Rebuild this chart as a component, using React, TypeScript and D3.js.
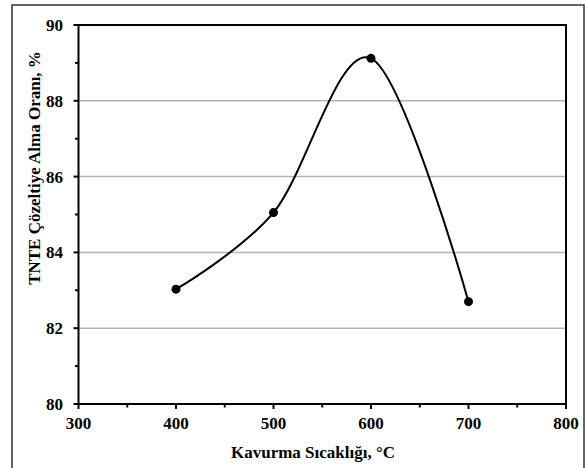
import React from "react";
import * as d3 from "d3";

const temperatures = [400, 500, 600, 700];
const ratios = [83.03, 85.05, 89.12, 82.7];
const xTicks = [300, 400, 500, 600, 700, 800];
const yTicks = [80, 82, 84, 86, 88, 90];
const xMinor = [350, 450, 550, 650, 750];
const yMinor = [81, 83, 85, 87, 89];
const xTitle = "Kavurma Sıcaklığı, °C";
const yTitle = "TNTE Çözeltiye Alma Oranı, %";

export default function App() {
  const W = 585, H = 468;
  const left = 78.5, right = 566, top = 25, bottom = 404;
  const x = d3.scaleLinear().domain([300, 800]).range([left, right]);
  const y = d3.scaleLinear().domain([80, 90]).range([bottom, top]);
  const pts = temperatures.map((t, i) => [x(t), y(ratios[i])] as [number, number]);
  const line = d3.line().curve(d3.curveCardinal.tension(0))(pts) || "";
  const font = "Liberation Serif";
  return (
    <svg width={W} height={H} style={{ position: "absolute", left: 0, top: 0, background: "#fff" }}>
      <rect x={12} y={5} width={572} height={470} fill="#fff" stroke="#333" strokeWidth={1.5} />
      {yTicks.slice(1, -1).map((v) => (
        <line key={"g" + v} x1={left} x2={right} y1={y(v)} y2={y(v)} stroke="#b3b3b3" strokeWidth={1.5} />
      ))}
      <rect x={left} y={top} width={right - left} height={bottom - top} fill="none" stroke="#000" strokeWidth={2} />
      {yTicks.map((v) => (
        <g key={"yt" + v}>
          <line x1={left - 5} x2={left} y1={y(v)} y2={y(v)} stroke="#000" strokeWidth={2} />
          <text x={63} y={y(v)} dy="0.35em" textAnchor="end" style={{ fontFamily: font, fontWeight: 700, fontSize: "17px" }}>{v}</text>
        </g>
      ))}
      {yMinor.map((v) => (
        <line key={"ym" + v} x1={left - 3.5} x2={left} y1={y(v)} y2={y(v)} stroke="#000" strokeWidth={2} />
      ))}
      {xTicks.map((v) => (
        <g key={"xt" + v}>
          <line x1={x(v)} x2={x(v)} y1={bottom} y2={bottom + 5} stroke="#000" strokeWidth={2} />
          <text x={x(v)} y={423} dy="0.35em" textAnchor="middle" style={{ fontFamily: font, fontWeight: 700, fontSize: "17px" }}>{v}</text>
        </g>
      ))}
      {xMinor.map((v) => (
        <line key={"xm" + v} x1={x(v)} x2={x(v)} y1={bottom} y2={bottom + 3.5} stroke="#000" strokeWidth={2} />
      ))}
      <path d={line} fill="none" stroke="#000" strokeWidth={2} />
      {pts.map((p, i) => (
        <circle key={"p" + i} cx={p[0]} cy={p[1]} r={4.5} fill="#000" />
      ))}
      <text x={313} y={452} dy="0.35em" textAnchor="middle" style={{ fontFamily: font, fontWeight: 700, fontSize: "17px" }}>{xTitle}</text>
      <text transform={`translate(34, 168) rotate(-90)`} dy="0.35em" textAnchor="middle" style={{ fontFamily: font, fontWeight: 700, fontSize: "17px" }}>{yTitle}</text>
    </svg>
  );
}
